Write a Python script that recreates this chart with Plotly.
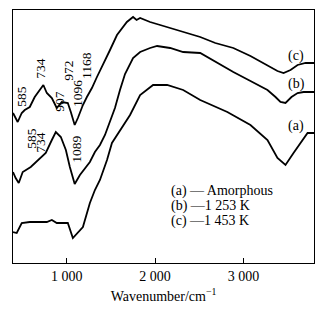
import plotly.graph_objects as go

# Curve (a) Amorphous
wn_a = [390, 432, 489, 580, 773, 830, 886, 1011, 1068, 1125, 1182, 1261, 1318, 1375, 1455, 1511,
        1602, 1716, 1830, 1977, 2136, 2318, 2511, 2640, 2818, 3080, 3273, 3386, 3477, 3568, 3682, 3727, 3800]
t_a = [31, 30, 40, 41, 41, 43, 40, 40, 25, 31, 36, 60, 73, 83, 103, 120,
       133, 148, 168, 178, 178, 173, 163, 158, 151, 138, 123, 105, 98, 110, 125, 130, 130]

# Curve (b) 1 253 K
wn_b = [390, 420, 455, 500, 591, 670, 761, 830, 875, 932, 989, 1034, 1089, 1148, 1205, 1261, 1318,
        1375, 1432, 1489, 1545, 1602, 1659, 1750, 1830, 1943, 2023, 2170, 2318, 2511, 2682, 2886,
        3080, 3273, 3364, 3420, 3477, 3545, 3614, 3682, 3800]
t_b = [91, 85, 80, 91, 96, 103, 110, 123, 131, 126, 113, 96, 79, 88, 95, 101, 111,
       118, 128, 141, 155, 173, 189, 205, 211, 215, 217, 215, 211, 210, 201, 191,
       182, 173, 166, 161, 160, 166, 170, 171, 171]

# Curve (c) 1 453 K
wn_c = [390, 420, 443, 489, 523, 580, 636, 734, 773, 830, 886, 943, 1011, 1045, 1089, 1125, 1182,
        1227, 1284, 1341, 1409, 1489, 1568, 1630, 1680, 1750, 1790, 1830, 1943, 2057, 2170, 2341,
        2511, 2682, 2886, 3080, 3273, 3386, 3455, 3534, 3614, 3705, 3800]
t_c = [150, 145, 141, 150, 153, 156, 166, 178, 170, 165, 155, 161, 160, 151, 138, 145, 158,
       166, 175, 186, 198, 213, 228, 235, 241, 246, 243, 245, 241, 238, 235, 230,
       226, 220, 215, 207, 198, 192, 190, 193, 198, 200, 200]

# Peak labels
peak_text = ["585", "734", "907", "972", "1096", "1168", "585", "734", "1089"]
peak_x = [477, 693, 909, 1011, 1114, 1216, 591, 693, 1102]
peak_y = [167, 195, 162, 192, 170, 198, 125, 121, 114]

curve_tags = ["(a)", "(b)", "(c)"]
curve_tag_x = [3591, 3602, 3591]
curve_tag_y = [137, 179, 207]

legend_lines = ["(a) — Amorphous", "(b) —1 253 K", "(c) —1 453 K"]
legend_x = 2170
legend_y = [72, 57, 42]

tick_vals = [1000, 2000, 3000]
tick_text = ["1 000", "2 000", "3 000"]

serif = "Liberation Serif, Times New Roman, serif"

fig = go.Figure()
for wn, t in [(wn_a, t_a), (wn_b, t_b), (wn_c, t_c)]:
    fig.add_trace(go.Scatter(x=wn, y=t, mode="lines",
                             line=dict(color="black", width=1.8), showlegend=False))

ann = []
for s, x, y in zip(peak_text, peak_x, peak_y):
    ann.append(dict(x=x, y=y, text=s, textangle=-90, showarrow=False,
                    font=dict(family=serif, size=13.5, color="black")))
for s, x, y in zip(curve_tags, curve_tag_x, curve_tag_y):
    ann.append(dict(x=x, y=y, text=s, showarrow=False,
                    font=dict(family=serif, size=14, color="black")))
for s, y in zip(legend_lines, legend_y):
    ann.append(dict(x=legend_x, y=y, text=s, showarrow=False, xanchor="left",
                    borderpad=0,
                    font=dict(family=serif, size=14, color="black")))

fig.update_layout(
    width=320, height=310,
    margin=dict(l=13, r=6, t=10, b=47),
    paper_bgcolor="white", plot_bgcolor="white",
    annotations=ann,
    xaxis=dict(range=[390, 3800], tickvals=tick_vals, ticktext=tick_text,
               ticks="inside", ticklen=5, tickcolor="black",
               showline=True, linecolor="black", linewidth=1, mirror=True,
               showgrid=False, zeroline=False,
               tickfont=dict(family=serif, size=14, color="black"),
               title=dict(text="Wavenumber/cm<sup>−1</sup>", standoff=8,
                          font=dict(family=serif, size=14, color="black"))),
    yaxis=dict(range=[0, 253], showticklabels=False, ticks="",
               showline=True, linecolor="black", linewidth=1, mirror=True,
               showgrid=False, zeroline=False),
)

fig.write_html("out.html")
